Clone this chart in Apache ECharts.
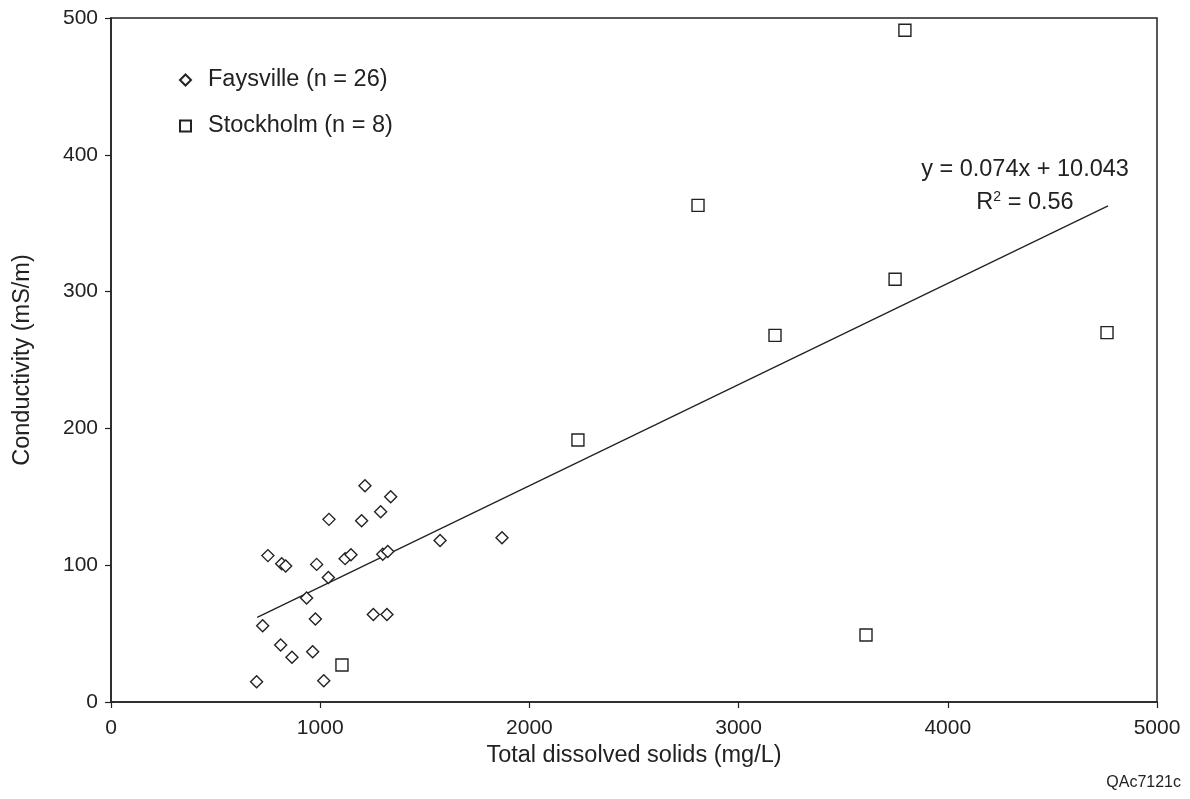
<!DOCTYPE html>
<html>
<head>
<meta charset="utf-8">
<script src="https://cdn.jsdelivr.net/npm/echarts@6/dist/echarts.min.js"></script>
<style>html,body{margin:0;padding:0;background:#fff}#c{width:1190px;height:799px}</style>
</head>
<body>
<div id="c"></div>
<script>
// Faysville (n = 26): total dissolved solids (mg/L), conductivity (mS/m)
var faysvilleTDS = [1214, 1337, 1042, 1198, 1289, 1573, 1869, 750, 816, 835, 983, 1119, 1147, 1299, 1323, 1039, 935, 977, 1254, 1319, 725, 811, 865, 964, 696, 1017];
var faysvilleCond = [158, 150, 133.5, 132.5, 139, 118, 120, 107, 101, 99.4, 100.6, 104.8, 107.7, 108, 110, 91, 76, 60.7, 64, 64, 55.8, 41.7, 32.7, 36.8, 14.8, 15.6];
// Stockholm (n = 8)
var stockholmTDS = [1104, 2232, 2806, 3174, 3609, 3748, 3795, 4761];
var stockholmCond = [27, 191.5, 363, 268, 49, 309, 491, 270];
// Regression line end points (y = 0.074x + 10.043)
var trendTDS = [699, 4766];
var trendCond = [61.8, 362.7];
var xTicks = [0, 1000, 2000, 3000, 4000, 5000];
var yTicks = [0, 100, 200, 300, 400, 500];
var seriesNames = ['Faysville (n = 26)', 'Stockholm (n = 8)'];

function pairs(xs, ys) { return xs.map(function (x, i) { return [x, ys[i]]; }); }

var ink = '#222';
var font = 'Liberation Sans, Arial, sans-serif';
var chart = echarts.init(document.getElementById('c'), null, { renderer: 'canvas' });
chart.setOption({
  animation: false,
  backgroundColor: '#fff',
  grid: {
    left: 111, right: 33, top: 18, bottom: 97,
    containLabel: false, outerBoundsMode: 'none',
    show: true, borderColor: ink, borderWidth: 1.5, backgroundColor: 'transparent'
  },
  legend: {
    data: seriesNames,
    orient: 'vertical',
    left: 174, top: 62,
    itemWidth: 11, itemHeight: 11,
    itemGap: 20,
    textStyle: { fontFamily: font, fontSize: 23.5, color: ink, lineHeight: 26, padding: [0, 0, 0, 12] }
  },
  xAxis: {
    type: 'value', min: xTicks[0], max: xTicks[xTicks.length - 1], interval: 1000,
    name: 'Total dissolved solids (mg/L)', nameLocation: 'middle', nameGap: 38,
    nameTextStyle: { fontFamily: font, fontSize: 23.5, color: ink },
    axisLine: { show: true, onZero: false, lineStyle: { color: ink, width: 1.5 } },
    axisTick: { show: true, inside: false, length: 6, lineStyle: { color: ink, width: 1.2 } },
    axisLabel: { margin: 16, fontFamily: font, fontSize: 21, color: ink, formatter: function (v) { return String(v); } },
    splitLine: { show: false }
  },
  yAxis: {
    type: 'value', min: yTicks[0], max: yTicks[yTicks.length - 1], interval: 100,
    name: 'Conductivity (mS/m)', nameLocation: 'middle', nameGap: 76, nameRotate: 90,
    nameTextStyle: { fontFamily: font, fontSize: 23.5, color: ink },
    axisLine: { show: true, onZero: false, lineStyle: { color: ink, width: 1.5 } },
    axisTick: { show: true, inside: false, length: 6, lineStyle: { color: ink, width: 1.2 } },
    axisLabel: { margin: 13, fontFamily: font, fontSize: 21, color: ink, formatter: function (v) { return String(v); } },
    splitLine: { show: false }
  },
  series: [
    {
      name: seriesNames[0], type: 'scatter', symbol: 'diamond', symbolSize: 12, z: 3,
      itemStyle: { color: '#fff', borderColor: ink, borderWidth: 1.4, opacity: 1 },
      data: pairs(faysvilleTDS, faysvilleCond)
    },
    {
      name: seriesNames[1], type: 'scatter', symbol: 'rect', symbolSize: 12, z: 3,
      itemStyle: { color: '#fff', borderColor: ink, borderWidth: 1.4, opacity: 1 },
      data: pairs(stockholmTDS, stockholmCond)
    },
    {
      name: 'trend', type: 'line', symbol: 'none', z: 2, silent: true,
      lineStyle: { color: ink, width: 1.3 },
      data: pairs(trendTDS, trendCond)
    }
  ],
  graphic: [
    {
      type: 'text', x: 1025, y: 170,
      style: { text: 'y = 0.074x + 10.043', fontFamily: font, fontSize: 23.5, fill: ink, align: 'center', verticalAlign: 'middle' }
    },
    {
      type: 'text', x: 1025, y: 203,
      style: {
        text: '{b|R}{s|2}{b| = 0.56}',
        align: 'center', verticalAlign: 'middle',
        rich: {
          b: { fontFamily: font, fontSize: 23.5, fill: ink, color: ink, lineHeight: 26 },
          s: { fontFamily: font, fontSize: 14, fill: ink, color: ink, verticalAlign: 'top', lineHeight: 26 }
        }
      }
    },
    {
      type: 'text', x: 1181, y: 783,
      style: { text: 'QAc7121c', fontFamily: font, fontSize: 16, fill: ink, align: 'right', verticalAlign: 'middle' }
    }
  ]
});
</script>
</body>
</html>
